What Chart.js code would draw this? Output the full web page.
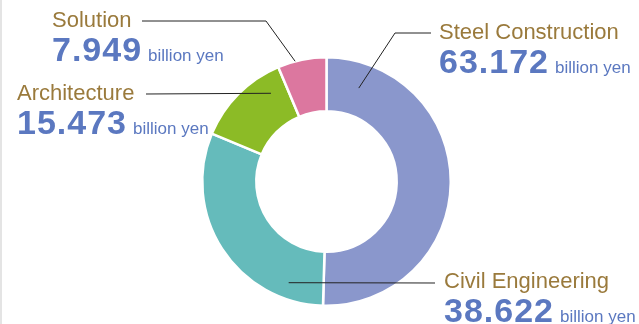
<!DOCTYPE html>
<html>
<head>
<meta charset="utf-8">
<script src="https://cdn.jsdelivr.net/npm/chart.js@4"></script>
<style>
  html, body { margin: 0; padding: 0; background: #fff; }
  #wrap { position: relative; width: 639px; height: 324px; }
  #edge { position: absolute; left: 0; top: 0; width: 2px; height: 324px; background: #e4e4e4; }
</style>
</head>
<body>
<div id="wrap">
  <canvas id="sales" width="639" height="324"></canvas>
  <div id="edge"></div>
</div>
<script>
var segments = ["Steel Construction", "Civil Engineering", "Architecture", "Solution"];
var sales = [63.172, 38.622, 15.473, 7.949];
var unit = "billion yen";
var colors = ["#8a97cc", "#65bbbb", "#8cbb26", "#dc779f"];

// callout placement per segment: where the leader starts on the ring
// (t = along the arc, f = across the ring), the elbow, and the text origin
var callouts = [
  { t: 0.105, f: 0.53, elbow: [395, 33],  end: [431, 33],  text: [439, 39] },
  { t: 0.17,  f: 0.70, elbow: [435, 283], end: [435, 283], text: [444, 288] },
  { t: 0.79,  f: 0.63, elbow: [146, 94],  end: [146, 94],  text: [17, 100] },
  { t: 0.36,  f: 1.00, elbow: [266, 21],  end: [142, 21],  text: [52, 27] }
];

var calloutPlugin = {
  id: 'callouts',
  afterDatasetsDraw: function(chart) {
    var ctx = chart.ctx;
    var arcs = chart.getDatasetMeta(0).data;
    ctx.save();
    arcs.forEach(function(arc, i) {
      var c = callouts[i];
      var p = arc.getProps(['x', 'y', 'startAngle', 'endAngle', 'innerRadius', 'outerRadius'], true);
      var a = p.startAngle + c.t * (p.endAngle - p.startAngle);
      var r = p.innerRadius + c.f * (p.outerRadius - p.innerRadius);
      ctx.strokeStyle = '#222';
      ctx.lineWidth = 1;
      ctx.beginPath();
      ctx.moveTo(p.x + Math.cos(a) * r, p.y + Math.sin(a) * r);
      ctx.lineTo(c.elbow[0], c.elbow[1]);
      ctx.lineTo(c.end[0], c.end[1]);
      ctx.stroke();

      ctx.textBaseline = 'alphabetic';
      ctx.textAlign = 'left';
      ctx.fillStyle = '#9a7a3c';
      ctx.font = '22px "Liberation Sans", Arial, sans-serif';
      ctx.fillText(segments[i], c.text[0], c.text[1]);

      var val = sales[i].toFixed(3);
      ctx.fillStyle = '#5b78c0';
      ctx.font = 'bold 34px "Liberation Sans", Arial, sans-serif';
      ctx.letterSpacing = '1px';
      ctx.fillText(val, c.text[0], c.text[1] + 34);
      var w = ctx.measureText(val).width;
      ctx.letterSpacing = '0px';
      ctx.font = '17px "Liberation Sans", Arial, sans-serif';
      ctx.fillText(unit, c.text[0] + w + 6, c.text[1] + 34);
    });
    ctx.restore();
  }
};

new Chart(document.getElementById("sales"), {
  type: 'doughnut',
  data: {
    labels: segments,
    datasets: [{
      data: sales,
      backgroundColor: colors,
      borderColor: '#ffffff',
      borderWidth: 2.5
    }]
  },
  options: {
    responsive: false,
    animation: false,
    cutout: '56.5%',
    layout: { padding: { top: 56, bottom: 17, left: 201, right: 187 } },
    plugins: {
      legend: { display: false },
      tooltip: { enabled: false }
    }
  },
  plugins: [calloutPlugin]
});
</script>
</body>
</html>
